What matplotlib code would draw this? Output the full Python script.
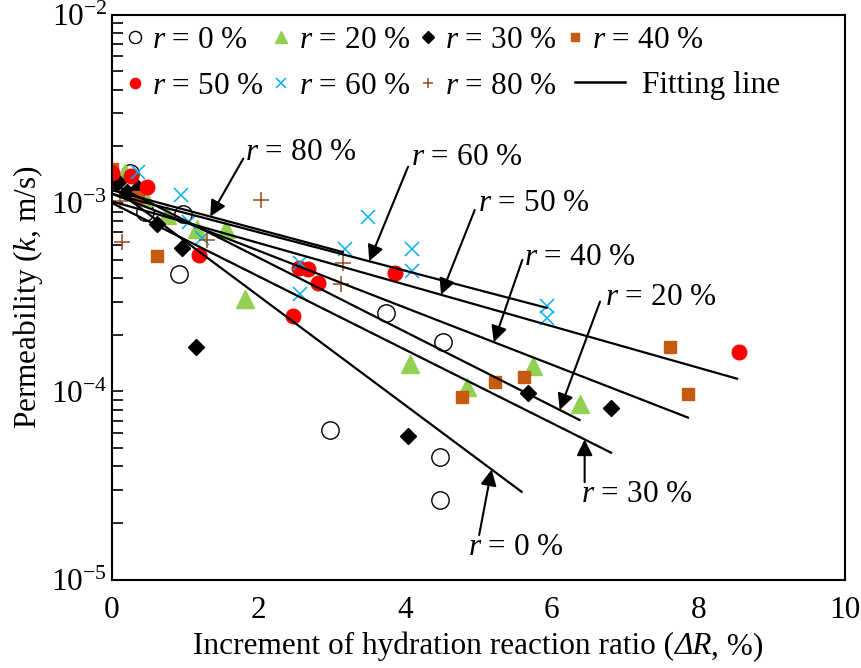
import numpy as np
import matplotlib
matplotlib.use('Agg')
import matplotlib.pyplot as plt
from matplotlib.lines import Line2D
from matplotlib.offsetbox import TextArea, HPacker, AnchoredOffsetbox

plt.rcParams['font.family'] = 'Liberation Serif'
plt.rcParams['font.size'] = 22.5
plt.rcParams['mathtext.fontset'] = 'custom'
plt.rcParams['mathtext.rm'] = 'Liberation Serif'
plt.rcParams['mathtext.it'] = 'Liberation Serif:italic'

# measured points (dR %, k m/s)
r0_x = [0.0, 0.25, 0.45, 0.97, 0.92, 2.97, 3.74, 4.51, 4.48, 4.48]
r0_y = [1.35e-3, 1.45e-3, 9.0e-4, 8.8e-4, 4.2e-4, 6.25e-5, 2.6e-4, 1.83e-4, 4.5e-5, 2.65e-5]
r20_x = [0.18, 0.45, 0.75, 1.16, 1.55, 1.81, 4.07, 4.84, 5.75, 6.38]
r20_y = [1.45e-3, 1.08e-3, 8.6e-4, 7.3e-4, 7.3e-4, 3.1e-4, 1.40e-4, 1.06e-4, 1.37e-4, 8.6e-5]
r30_x = [0.08, 0.21, 0.36, 0.62, 0.95, 1.15, 4.04, 5.68, 6.81]
r30_y = [1.3e-3, 1.15e-3, 1.2e-3, 7.7e-4, 5.8e-4, 1.73e-4, 5.8e-5, 9.8e-5, 8.2e-5]
r40_x = [0.0, 0.36, 0.62, 4.77, 5.22, 5.62, 7.62, 7.86]
r40_y = [1.52e-3, 1.08e-3, 5.25e-4, 9.4e-5, 1.12e-4, 1.20e-4, 1.73e-4, 9.7e-5]
r50_x = [0.0, 0.26, 0.48, 1.19, 2.47, 2.55, 2.68, 2.81, 3.86, 8.55]
r50_y = [1.45e-3, 1.40e-3, 1.21e-3, 5.3e-4, 2.52e-4, 4.5e-4, 4.45e-4, 3.77e-4, 4.27e-4, 1.62e-4]
r60_x = [0.36, 0.94, 1.05, 1.23, 2.56, 2.56, 3.18, 3.49, 4.10, 4.10, 5.93, 5.93]
r60_y = [1.47e-3, 1.10e-3, 7.9e-4, 6.5e-4, 4.8e-4, 3.3e-4, 5.7e-4, 8.4e-4, 5.7e-4, 4.37e-4, 2.85e-4, 2.46e-4]
r80_x = [0.11, 0.14, 1.30, 2.03, 3.15, 3.12]
r80_y = [1.02e-3, 6.2e-4, 6.4e-4, 1.04e-3, 4.8e-4, 3.7e-4]

# fitting lines k = k0*exp(-b*dR), drawn up to x_end
fit_k0 = {'0': 1.22e-3, '20': 1.27e-3, '30': 1.0e-3, '40': 1.12e-3, '50': 1.02e-3, '60': 1.12e-3, '80': 1.17e-3}
fit_b = {'0': 0.667, '20': 0.453, '30': 0.448, '40': 0.348, '50': 0.254, '60': 0.235, '80': 0.24}
fit_end = {'0': 5.59, '20': 6.38, '30': 6.81, '40': 7.86, '50': 8.53, '60': 5.93, '80': 3.15}

# annotation: key -> (tip x, text x, text y, tail x, tail y)
ann = {
    '80': (1.34, 1.82, 1.85e-3, 1.79, 1.72e-3),
    '60': (3.51, 4.08, 1.74e-3, 4.04, 1.56e-3),
    '50': (4.49, 5.00, 1.00e-3, 4.95, 9.2e-4),
    '40': (5.21, 5.62, 5.12e-4, 5.60, 5.0e-4),
    '20': (6.11, 6.73, 3.14e-4, 6.66, 3.0e-4),
    '30': (6.45, 6.40, 2.85e-5, 6.45, 3.3e-5),
    '0': (5.18, 4.86, 1.48e-5, 5.01, 1.73e-5),
}

fig = plt.figure(figsize=[8.62, 6.68], dpi=100)
ax = fig.add_axes([0.130, 0.132, 0.850, 0.846])

h0, = ax.plot(r0_x, r0_y, 'o', ms=12.5, mfc='white', mec='k', mew=1.0, ls='none', label='$r$ = 0 %')
h20, = ax.plot(r20_x, r20_y, '^', ms=12.5, color='#92D050', ls='none', label='$r$ = 20 %')
h30, = ax.plot(r30_x, r30_y, 'D', ms=8.5, color='k', ls='none', label='$r$ = 30 %')
h40, = ax.plot(r40_x, r40_y, 's', ms=9, color='#C55A11', ls='none', label='$r$ = 40 %')
h50, = ax.plot(r50_x, r50_y, 'o', ms=10.5, color='#FF0000', ls='none', label='$r$ = 50 %')
h60, = ax.plot(r60_x, r60_y, 'x', ms=10, mew=1.1, color='#00B0F0', ls='none', label='$r$ = 60 %')
h80, = ax.plot(r80_x, r80_y, '+', ms=11, mew=1.1, color='#944D1E', ls='none', label='$r$ = 80 %')

for key in fit_k0:
    xx = np.linspace(0, fit_end[key], 50)
    ax.plot(xx, fit_k0[key] * np.exp(-fit_b[key] * xx), color='k', lw=1.6)
hfit = Line2D([], [], color='k', lw=1.8, label='Fitting line')

for key, (tx, lx, ly, ax_, ay_) in ann.items():
    ty = fit_k0[key] * np.exp(-fit_b[key] * tx)
    ax.annotate('', xy=(tx, ty), xytext=(ax_, ay_),
                arrowprops=dict(arrowstyle='-|>', color='k', lw=1.5, mutation_scale=24,
                                shrinkA=0, shrinkB=0))
    ax.text(lx, ly, '$r$ = %s %%' % key, ha='left', va='center')

ax.set_yscale('log')
ax.set_xlim(0, 10)
ax.set_ylim(1e-5, 1e-2)
ax.set_xticks([0, 2, 4, 6, 8, 10])
ax.set_yticks([1e-5, 1e-4, 1e-3, 1e-2])
ax.set_yticklabels(['10$^{\\mathregular{-5}}$', '10$^{\\mathregular{-4}}$',
                    '10$^{\\mathregular{-3}}$', '10$^{\\mathregular{-2}}$'])
ax.tick_params(axis='y', which='both', direction='in', length=8, width=1.2)
ax.tick_params(axis='x', length=0, pad=12)
for s in ax.spines.values():
    s.set_linewidth(1.5)

# x label built from pieces so that the delta is italic too
xlab = HPacker(children=[TextArea('Increment of hydration reaction ratio ('),
                         TextArea('ΔR', textprops=dict(style='italic')),
                         TextArea(', %)')], align='baseline', pad=0, sep=0)
ax.add_artist(AnchoredOffsetbox(loc='center', child=xlab, pad=0, borderpad=0, frameon=False,
                                bbox_to_anchor=(0.5, -0.118), bbox_transform=ax.transAxes))
ax.set_ylabel('Permeability ($k$, m/s)', labelpad=4)

# marker entries, filled row by row (column-major order for ncol=4)
handles = [h0, h50, h20, h60, h30, h80, h40]
leg1 = ax.legend(handles=handles, ncol=4, loc='center left', bbox_to_anchor=(0.018, 0.914),
                 frameon=False, markerscale=0.7, handlelength=0.6, handletextpad=0.25,
                 columnspacing=0.28, labelspacing=0.56, borderaxespad=0, borderpad=0)
ax.add_artist(leg1)
ax.legend(handles=[hfit], loc='center left', bbox_to_anchor=(0.632, 0.875),
          frameon=False, handlelength=1.6, handletextpad=0.55, borderaxespad=0, borderpad=0)

plt.savefig('out.png', dpi=100)
